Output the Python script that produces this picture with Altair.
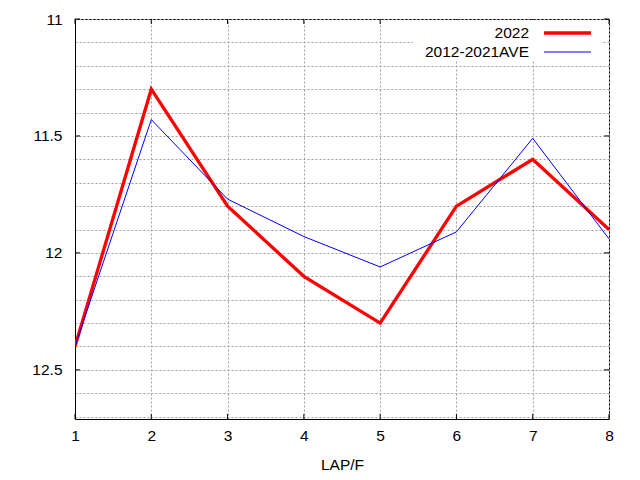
import altair as alt
import pandas as pd

laps = [1, 2, 3, 4, 5, 6, 7, 8]
y2022 = [12.40, 11.30, 11.80, 12.10, 12.30, 11.80, 11.60, 11.90]
ave = [12.40, 11.43, 11.77, 11.93, 12.06, 11.91, 11.51, 11.94]
series = ["2022", "2012-2021AVE"]
colors = ["#ff0000", "#0000ff"]
widths = [3.3, 1]
y_major = [11.0, 11.5, 12.0, 12.5]
y_ticks = [11.0, 11.1, 11.2, 11.3, 11.4, 11.5, 11.6, 11.7, 11.8, 11.9,
           12.0, 12.1, 12.2, 12.3, 12.4, 12.5, 12.6, 12.7]

df = pd.concat([
    pd.DataFrame({"lap": laps, "time": y2022, "series": series[0]}),
    pd.DataFrame({"lap": laps, "time": ave, "series": series[1]}),
])

FONT = "Liberation Sans"
FS = 15.5

x_enc = alt.X("lap:Q", title="LAP/F",
              scale=alt.Scale(domain=[1, 8], nice=False, zero=False),
              axis=alt.Axis(values=laps, format="d", labelPadding=9,
                            labelFlush=False, titlePadding=14))
y_enc = alt.Y("time:Q", title=None,
              scale=alt.Scale(domain=[11, 12.71], reverse=True, nice=False, zero=False),
              axis=alt.Axis(values=y_ticks, labelOverlap=False, labelPadding=13,
                            labelExpr="round(datum.value*10) % 5 == 0 ? toString(round(datum.value*10)/10) : ''"))

lines = (
    alt.Chart(df)
    .mark_line(clip=True)
    .encode(
        x=x_enc,
        y=y_enc,
        color=alt.Color("series:N", scale=alt.Scale(domain=series, range=colors), legend=None),
        strokeWidth=alt.StrokeWidth("series:N", scale=alt.Scale(domain=series, range=widths),
                                    legend=None),
    )
)

# inward major ticks on all four borders (gnuplot style)
xt = pd.DataFrame({"lap": laps})
yt = pd.DataFrame({"time": y_major})
tick_style = dict(color="black", strokeWidth=1)
ticks = [
    alt.Chart(xt).mark_rule(**tick_style).encode(x=x_enc, y=alt.value(395), y2=alt.value(400)),
    alt.Chart(xt).mark_rule(**tick_style).encode(x=x_enc, y=alt.value(0), y2=alt.value(5)),
    alt.Chart(yt).mark_rule(**tick_style).encode(y=y_enc, x=alt.value(0), x2=alt.value(5)),
    alt.Chart(yt).mark_rule(**tick_style).encode(y=y_enc, x=alt.value(529), x2=alt.value(534)),
]

# gnuplot-style key: label on the left, line sample on the right, white box
key_parts = [
    alt.Chart().mark_rect(fill="white").encode(
        x=alt.value(338), x2=alt.value(526), y=alt.value(1), y2=alt.value(41))
]
for i, name in enumerate(series):
    ypos = 14 + 19 * i
    key_parts.append(
        alt.Chart().mark_text(align="right", baseline="middle", font=FONT,
                              fontSize=FS, color="black", text=name)
        .encode(x=alt.value(454), y=alt.value(ypos))
    )
    key_parts.append(
        alt.Chart().mark_rule(color=colors[i], strokeWidth=widths[i])
        .encode(x=alt.value(469), x2=alt.value(516), y=alt.value(ypos))
    )

chart = (
    alt.layer(lines, *ticks, *key_parts)
    .properties(width=534, height=400,
                padding={"left": 67, "top": 11, "right": 23, "bottom": 53},
                autosize=alt.AutoSizeParams(type="none"))
    .configure_view(stroke="black", strokeWidth=1)
    .configure_axis(
        grid=True, gridColor="#a0a0a0", gridDash=[2, 2], gridWidth=1,
        domainColor="black", ticks=False,
        labelFont=FONT, labelFontSize=FS, labelColor="black",
        titleFont=FONT, titleFontSize=FS, titleColor="black", titleFontWeight="normal",
    )
)

chart.save("out.html", embed_options={"renderer": "svg", "actions": False})
